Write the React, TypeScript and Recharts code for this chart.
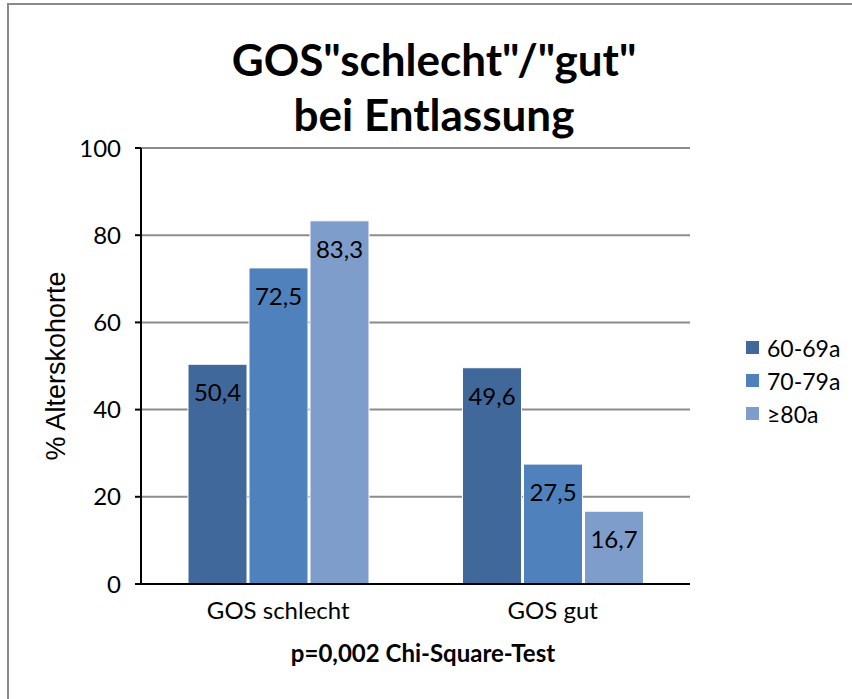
import React from "react";
import {
  BarChart,
  Bar,
  XAxis,
  YAxis,
  CartesianGrid,
  LabelList,
} from "recharts";

const categories = ["GOS schlecht", "GOS gut"];
const age60to69 = [50.4, 49.6];
const age70to79 = [72.5, 27.5];
const age80plus = [83.3, 16.7];
const yTicks = [0, 20, 40, 60, 80, 100];

const seriesInfo = [
  { key: "a60", name: "60-69a", color: "#41689B" },
  { key: "a70", name: "70-79a", color: "#4F81BD" },
  { key: "a80", name: "≥80a", color: "#7E9DCA" },
];

const data = categories.map((c, i) => ({
  cat: c,
  a60: age60to69[i],
  a70: age70to79[i],
  a80: age80plus[i],
}));

const font = "Lato, 'Open Sans', sans-serif";

const fmt = (v: any) => String(v).replace(".", ",");

const LegendBox = () => (
  <div
    style={{
      position: "absolute",
      left: 746,
      top: 331,
      fontFamily: font,
    }}
  >
    {seriesInfo.map((s) => (
      <div
        key={s.key}
        style={{ display: "flex", alignItems: "center", height: 33 }}
      >
        <span
          style={{
            width: 13,
            height: 13,
            background: s.color,
            display: "inline-block",
            marginRight: 8,
          }}
        />
        <span style={{ fontSize: 23, color: "#000" }}>{s.name}</span>
      </div>
    ))}
  </div>
);

export default function App() {
  return (
    <div
      style={{
        position: "absolute",
        left: 0,
        top: 0,
        width: 852,
        height: 699,
        background: "#fff",
        fontFamily: font,
      }}
    >
      <div
        style={{
          position: "absolute",
          left: 7,
          top: 3,
          width: 845,
          height: 696,
          borderTop: "2px solid #8a8a8a",
          borderLeft: "2px solid #8a8a8a",
        }}
      />
      <div
        style={{
          position: "absolute",
          left: 134,
          width: 600,
          top: 32,
          textAlign: "center",
          fontWeight: 700,
          fontSize: 44,
          lineHeight: "55px",
          color: "#000",
        }}
      >
        GOS"schlecht"/"gut"
        <br />
        bei Entlassung
      </div>
      <BarChart
        width={852}
        height={699}
        data={data}
        margin={{ top: 148, right: 162, left: 80, bottom: 75 }}
        barGap={2}
        barSize={59}
        style={{ position: "absolute", left: 0, top: 0 }}
      >
        <CartesianGrid
          vertical={false}
          stroke="#8c8c8c"
          strokeWidth={2}
        />
        <XAxis
          dataKey="cat"
          tickLine={false}
          axisLine={{ stroke: "#000", strokeWidth: 2 }}
          tick={{ fill: "#000", fontSize: 24, fontFamily: font }}
          tickMargin={12}
          height={40}
        />
        <YAxis
          domain={[0, 100]}
          ticks={yTicks}
          width={61}
          axisLine={{ stroke: "#000", strokeWidth: 2 }}
          tickLine={{ stroke: "#000", strokeWidth: 2 }}
          tickSize={6}
          tickMargin={14}
          tick={{ fill: "#000", fontSize: 24, fontFamily: font }}
          label={{
            value: "% Alterskohorte",
            angle: -90,
            position: "insideLeft",
            offset: -25,
            style: {
              textAnchor: "middle",
              fill: "#000",
              fontSize: 27,
              fontFamily: "'Liberation Sans', Arial, sans-serif",
            },
          }}
        />
        {seriesInfo.map((s) => (
          <Bar
            key={s.key}
            dataKey={s.key}
            name={s.name}
            fill={s.color}
            stroke="#fff"
            strokeWidth={1}
            isAnimationActive={false}
          >
            <LabelList
              dataKey={s.key}
              position="insideTop"
              offset={20}
              formatter={fmt}
              style={{ fill: "#000", fontSize: 24, fontFamily: font }}
            />
          </Bar>
        ))}
      </BarChart>
      <LegendBox />
      <div
        style={{
          position: "absolute",
          left: 123,
          width: 600,
          top: 638,
          textAlign: "center",
          fontWeight: 700,
          fontSize: 24,
          color: "#000",
        }}
      >
        p=0,002 Chi-Square-Test
      </div>
    </div>
  );
}
